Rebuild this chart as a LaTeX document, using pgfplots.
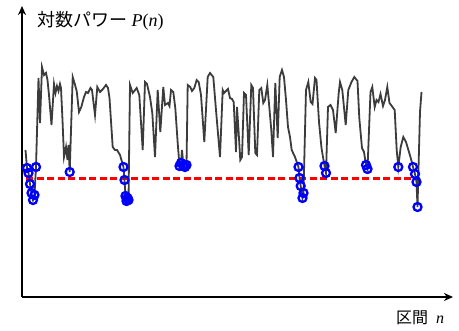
\documentclass[border=0pt]{standalone}
\usepackage{pgfplots}
\pgfplotsset{compat=1.18}
\usetikzlibrary{arrows.meta}
\usepackage{fontspec}
\setmainfont{Liberation Serif}
\newfontfamily\jp{Noto Sans CJK JP}
\definecolor{lgray}{RGB}{60,60,60}
\begin{document}
\begin{tikzpicture}[x=1pt,y=1pt]
\useasboundingbox (0,0) rectangle (459,331);
\begin{axis}[at={(0,0)},anchor=south west,scale only axis,width=459pt,height=331pt,
  xmin=0,xmax=459,ymin=0,ymax=331,y dir=reverse,hide axis,clip=false]
% axes
\draw[line width=2pt,-{Stealth[length=9pt,width=8pt]}] (axis cs:22,297) -- (axis cs:22,6);
\draw[line width=2pt,-{Stealth[length=9pt,width=8pt]}] (axis cs:22,297) -- (axis cs:453,297);
% threshold
\addplot[red,line width=3pt,dash pattern=on 7pt off 3.5pt] coordinates {(26,179) (420,179)};
% power series
\addplot[lgray,line width=1.8pt] coordinates {
(25.5,150) (27,168) (28.5,173) (30,184) (31.5,193) (33,200) (34.5,195) (36,167)
(38.5,78) (40,123) (42,67) (44,75) (46,73) (47.5,80) (49,95) (51.5,125)
(54,84) (55.5,93) (57,86) (58.5,91) (60,84) (61,88) (62.5,120) (64,157)
(66,147) (67.5,160) (68.5,145) (69.7,172) (72.7,77) (74.5,83) (76.7,91) (79,112)
(81.3,107) (84,97) (86,92) (88,93) (90.5,88) (92,90) (95,115) (97.3,87)
(100,92) (103,89) (106,85) (108,88) (109.5,98) (112.7,147) (115,150) (117,150)
(120,155) (123.5,167) (124.5,180) (125.5,196) (126.5,201) (127.5,198) (128.5,200) (130,85)
(132.7,93) (136.7,88) (139.3,95) (142.7,150) (145,82) (147,84) (150,97) (152.3,113)
(155,157) (157.7,90) (160.3,132) (163.3,87) (165,105) (168,103) (169.5,106) (171,90)
(173.3,92) (175.3,108) (177.7,143) (179.5,166) (181,163) (182,150) (183.5,166) (185,167)
(186.5,165) (187.7,85) (190.3,87) (192,91) (194.3,88) (196.7,80) (198.7,82) (201,95)
(204.3,142) (207.7,77) (210,73) (213.3,77) (216,110) (220,157) (222.7,90) (224,93)
(226,91) (228,89) (230,98) (232,99) (233.7,102) (236,152) (237,107) (238.5,130)
(240.3,160) (242,157) (244,93) (246,95) (248.7,155) (251.3,85) (253,88) (255.3,153)
(257,155) (259.3,90) (261.3,88) (263.3,103) (265,100) (267.3,85) (269.3,107) (271.3,130)
(273,157) (275.3,83) (277.7,138) (279.7,77) (282,70) (284,77) (286,100) (288,127)
(290,137) (291.7,150) (295,157) (298.5,167) (299.5,178) (300.7,186) (302.5,198) (303.5,193)
(306,90) (308.3,82) (310.7,102) (312.5,104) (315,78) (316.5,80) (319,122) (321.5,148)
(324.5,166) (326,173) (328,107) (330.5,105) (333,110) (335.7,133) (338.7,93) (340,82)
(342.3,90) (345.7,125) (348.3,90) (351.5,82) (354.3,77) (357.5,81) (359.3,118) (362,148)
(364,152) (366,165) (367.5,169) (370.5,92) (372.3,87) (374.7,107) (376.5,100) (378.5,102)
(380.5,94) (383,106) (385,100) (387.3,87) (389.5,103) (392.5,107) (394.7,110) (396.7,150)
(398.3,167) (400.7,147) (403.3,137) (406,142) (409,152) (411.3,160) (413,167) (415,174)
(416.5,182) (417.5,207) (420,112) (421.5,92)
};
% detected points
\addplot[only marks,mark=o,mark size=4pt,blue,mark options={line width=2.3pt}] coordinates {
(27,168) (28.5,173) (30,184) (31.5,193) (33,200) (34.5,195) (36,167)
(69.7,172)
(123.5,167) (124.5,180) (125.5,196) (126.5,201) (127.5,198) (128.5,200)
(179.5,166) (181,163) (183.5,166) (185,167) (186.5,165)
(298.5,167) (299.5,178) (300.7,186) (302.5,198) (303.5,193)
(324.5,166) (326,173)
(366,165) (367.5,169)
(398.3,167)
(413,167) (415,174) (416.5,182) (417.5,207)
};
\node[anchor=west,inner sep=0pt] at (axis cs:37,21) {\fontsize{18}{18}\selectfont{\jp 対数パワー}\ \textit{P}(\textit{n})};
\node[anchor=west,inner sep=0pt] at (axis cs:396,318) {\fontsize{16}{16}\selectfont{\jp 区間}\ \ \textit{n}};
\end{axis}
\end{tikzpicture}
\end{document}
